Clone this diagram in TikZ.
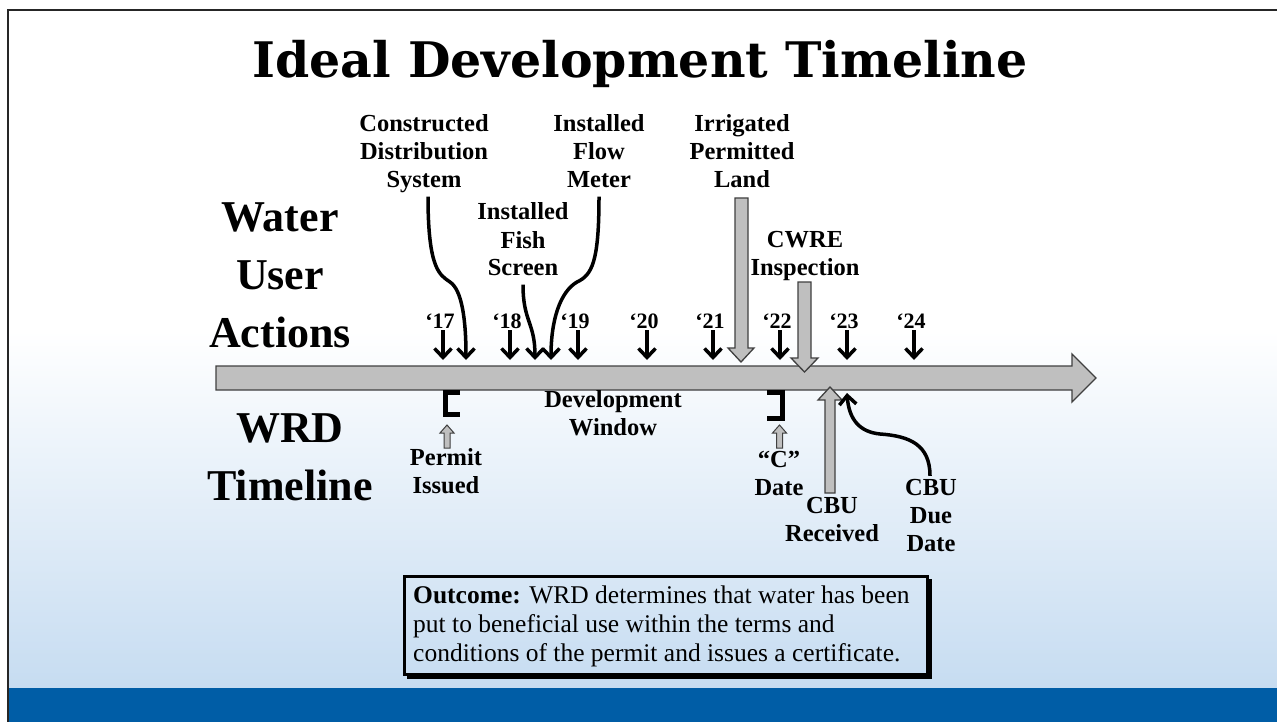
\documentclass[tikz,border=0pt]{standalone}
\usepackage{fontspec}
\setmainfont{Liberation Serif}
\newfontfamily\titlefont{DejaVu Serif}
\usetikzlibrary{arrows.meta}
\definecolor{bargray}{HTML}{BFBFBF}
\definecolor{edgegray}{HTML}{404040}
\definecolor{bandblue}{HTML}{005DA6}
\definecolor{paleblue}{HTML}{C6DCF1}
\begin{document}
\begin{tikzpicture}[x=1pt,y=-1pt,
  lab/.style={font=\fontsize{24.5}{28}\selectfont\bfseries, align=center, inner sep=0pt},
  big/.style={font=\fontsize{44}{58}\selectfont\bfseries, align=center, inner sep=0pt},
  yrlab/.style={font=\fontsize{22}{26}\selectfont\bfseries, anchor=base, inner sep=0pt},
  yr/.style={line width=3.5pt, -{Straight Barb[length=9pt,width=17pt]}},
  curv/.style={line width=3.5pt, -{Straight Barb[length=9pt,width=17pt]}},
  block/.style={fill=bargray, draw=edgegray, line width=1.3pt, line join=miter},
  brack/.style={line width=5pt, line join=miter}
]
\useasboundingbox (0,0) rectangle (1277,722);
% background
\fill[white] (0,0) rectangle (1277,722);
\shade[top color=white, bottom color=paleblue] (8,330) rectangle (1277,688);
\fill[bandblue] (8,688) rectangle (1277,722);
\draw[black!85, line width=1.5pt] (8,722) -- (8,10) -- (1277,10);

% title
\node[font=\fontsize{49}{52}\titlefont\bfseries, anchor=base, inner sep=0pt] (title) at (640,78) {Ideal Development Timeline};

% side labels
\node[big] (wua) at (280,278) {\strut Water\\User\\Actions\strut};
\node[big] (wrd) at (290,459.4) {\strut WRD\\Timeline\strut};

% main axis
\draw[block] (216,366) -- (1072,366) -- (1072,354) -- (1096,378) -- (1072,402) -- (1072,390) -- (216,390) -- cycle;

% years
\foreach \x/\t in {443/17,510/18,578/19,647/20,713/21,780/22,847/23,914/24}{
  \node[yrlab] (y\t) at (\x-3,328) {‘\t};
  \coordinate (t\t) at (\x,360);
  \draw[yr] ([yshift=-2pt]y\t.base -| t\t) -- (t\t);
}

% upper labels
\node[lab] (cds) at (424,154.4) {\strut Constructed\\Distribution\\System\strut};
\node[lab] (ifm) at (599,154.4) {\strut Installed\\Flow\\Meter\strut};
\node[lab] (ifs) at (523,242.4) {\strut Installed\\Fish\\Screen\strut};
\node[lab] (ipl) at (742,154.4) {\strut Irrigated\\Permitted\\Land\strut};
\node[lab] (cwre) at (805,255.4) {\strut CWRE\\Inspection\strut};

\coordinate (cdsend) at (466,360);
\coordinate (ifmend) at (551,360);
\coordinate (ifsend) at (535,360);
\draw[curv] ([xshift=4pt]cds.south) .. controls (428,270) and (440,275) .. (450,282) .. controls (462,290) and (466,320) .. (cdsend);
\draw[curv] (ifm.south) .. controls (599,262) and (592,275) .. (577,282) .. controls (560,292) and (551,320) .. (ifmend);
\draw[curv] (ifs.south) .. controls (523,322) and (535,322) .. (ifsend);

% gray block arrows from above
\draw[block] (735,198) -- (748,198) -- (748,348) -- (754,348) -- (741,362) -- (728,348) -- (735,348) -- cycle;
\draw[block] (798,282) -- (811,282) -- (811,358) -- (818,358) -- (804.5,372) -- (791,358) -- (798,358) -- cycle;

% brackets
\draw[brack] (460,392.5) -- (445.5,392.5) -- (445.5,414) -- (460,414);
\draw[brack] (767,392.5) -- (782,392.5) -- (782,418.5) -- (767,418.5);

% small gray arrows
\draw[block, line width=1pt] (444,448) -- (450,448) -- (450,433) -- (454,433) -- (447,425) -- (440,433) -- (444,433) -- cycle;
\draw[block, line width=1pt] (776.5,448) -- (782.5,448) -- (782.5,433) -- (786.5,433) -- (779.5,425) -- (772.5,433) -- (776.5,433) -- cycle;
% CBU received
\draw[block] (825,493) -- (835,493) -- (835,400) -- (842,400) -- (830,387) -- (818,400) -- (825,400) -- cycle;

% lower labels
\node[lab] (dw) at (613,416) {\strut Development\\Window\strut};
\node[lab] (pi) at (446,474) {\strut Permit\\Issued\strut};
\node[lab] (cd) at (779,476) {\strut “C”\\Date\strut};
\node[lab] (cbur) at (832,522) {\strut CBU\\Received\strut};
\node[lab] (cbud) at (931,518) {\strut CBU\\Due\\Date\strut};

\coordinate (dueend) at (847,393);
\draw[curv] ([xshift=-1pt]cbud.north) .. controls (930,445) and (910,436) .. (880,434) .. controls (860,432) and (849,420) .. (dueend);

% outcome box
\draw[black, line width=3pt, line cap=butt] (930.5,579) -- (930.5,678.5);
\draw[black, line width=3pt, line cap=butt] (407,677) -- (932,677);
\node[draw=black, line width=3pt, minimum width=523pt, minimum height=98pt, inner sep=0pt] (outbox) at (666,625.5) {};
\node[align=left, anchor=west, inner sep=0pt, font=\fontsize{25.5}{29}\selectfont] (out) at (413,626.2)
  {\strut\textbf{Outcome:} WRD determines that water has been\\put to beneficial use within the terms and\\conditions of the permit and issues a certificate.\strut};
\end{tikzpicture}
\end{document}
